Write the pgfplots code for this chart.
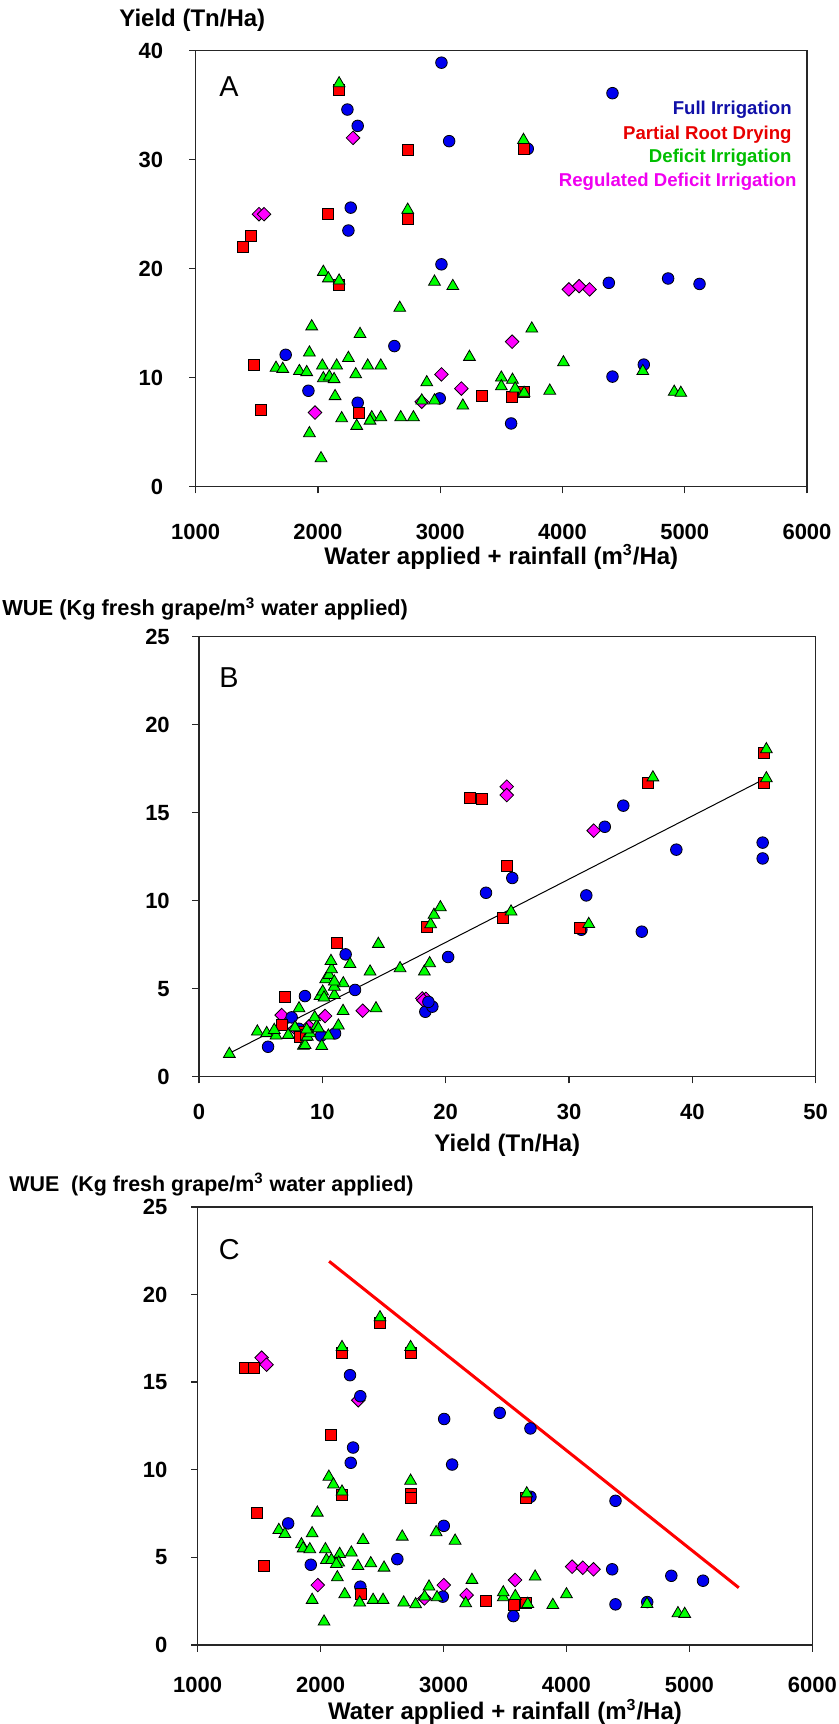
\documentclass[border=0pt]{standalone}
\usepackage{fontspec}
\setmainfont{Liberation Sans}
\usepackage{pgfplots}
\pgfplotsset{compat=1.18}
\definecolor{fiblue}{HTML}{0000F0}
\definecolor{prdred}{HTML}{FF0000}
\definecolor{digreen}{HTML}{00FF00}
\definecolor{rdimag}{HTML}{FF00FF}
\definecolor{txblue}{HTML}{1010A8}
\definecolor{txred}{HTML}{E80000}
\definecolor{txgreen}{HTML}{00BE00}
\definecolor{txmag}{HTML}{F000F0}

\pgfplotsset{
  panel/.style={scale only axis, clip=false,
    axis line style={black!85,line width=0.7pt},
    tick style={black!85,line width=0.7pt},
    tick align=outside, major tick length=3.3pt,
    xtick pos=left, ytick pos=left,
    ticklabel style={font=\bfseries\fontsize{11}{13}\selectfont},
    /pgf/number format/assume math mode=true,
    /pgf/number format/1000 sep={},
    label style={font=\bfseries\fontsize{12}{14}\selectfont},
    xlabel style={at={(axis description cs:0.5,0)},anchor=center}},
  fi/.style={only marks, mark=*, mark size=2.9pt,
    mark options={fill=fiblue,draw=black,line width=0.4pt}},
  prd/.style={only marks, mark=square*, mark size=2.75pt,
    mark options={fill=prdred,draw=black,line width=0.4pt}},
  di/.style={only marks, mark=triangle*, mark size=3.4pt,
    mark options={fill=digreen,draw=black,line width=0.4pt}},
  rdi/.style={only marks, mark=square*, mark size=2.4pt,
    mark options={fill=rdimag,draw=black,line width=0.4pt,rotate=45}},
}

% panel A: water (m3/Ha) vs yield (Tn/Ha)
\pgfplotstableread{
w y
3010 38.9
2241 34.6
2325 33.1
3073 31.7
2268 25.6
2249 23.5
3010 20.4
2625 12.9
1736 12.1
1922 8.8
2325 7.7
2996 8.1
3580 5.8
4409 36.1
3716 31.0
4379 18.7
4864 19.1
5121 18.6
4409 10.1
4665 11.2
}\fiA
\pgfplotstableread{
w y
2173 36.4
2734 30.9
2083 25.0
2734 24.6
1455 23.0
1385 22.0
2173 18.5
1480 11.2
1535 7.0
2336 6.8
3343 8.3
3681 31.0
3585 8.2
3681 8.7
}\prdA
\pgfplotstableread{
w y
2173 37.0
2734 25.4
2044 19.7
2085 19.1
2173 18.9
2953 18.8
3103 18.4
2669 16.4
1949 14.7
2344 14.0
1930 12.3
2249 11.8
3239 11.9
1657 10.9
1712 10.8
1848 10.6
1908 10.5
2036 11.1
2153 11.1
2407 11.1
2514 11.1
2309 10.3
2044 9.94
2093 10.1
2132 9.86
2140 8.3
2890 9.57
2849 7.9
2953 7.9
3185 7.43
2194 6.27
2317 5.57
2440 6.36
2426 6.05
2514 6.36
2677 6.36
2781 6.36
1930 4.9
2025 2.6
3681 31.8
3749 14.5
4008 11.4
3500 10.0
3591 9.8
3500 9.2
3613 9.0
3686 8.6
3896 8.8
4657 10.6
4914 8.7
4968 8.6
}\diA
\pgfplotstableread{
w y
2287 32.0
1518 25.0
1559 25.0
1976 6.8
3010 10.3
3173 9.0
2849 7.8
3588 13.3
4052 18.1
4136 18.4
4221 18.1
}\rdiA

% panel B: yield (Tn/Ha) vs WUE
\pgfplotstableread{
y e
5.6 1.7
7.51 3.37
8.59 4.58
9.9 2.33
11.03 2.46
11.89 6.95
12.65 4.93
8.1 2.72
18.35 3.69
18.92 3.98
18.6 4.25
20.2 6.8
23.27 10.45
25.4 11.29
32.9 14.2
34.4 15.4
31.4 10.3
38.7 12.9
35.9 8.24
31.0 8.35
45.7 13.3
45.7 12.4
}\fiB
\pgfplotstableread{
y e
6.97 4.56
6.76 2.94
8.19 2.56
8.19 2.27
8.7 2.36
11.16 7.58
18.46 8.52
22.0 15.83
22.97 15.8
24.6 9.0
24.95 11.99
36.4 16.7
30.9 8.43
45.8 18.4
45.8 16.7
}\prdB
\pgfplotstableread{
y e
2.46 1.29
4.73 2.56
5.49 2.47
6.24 2.33
6.1 2.65
7.24 2.37
7.78 2.8
8.11 3.88
8.46 1.75
8.6 1.8
8.78 2.27
9.0 2.46
8.73 2.68
9.54 2.88
9.38 3.37
9.68 2.74
9.95 1.74
10.49 2.33
11.3 2.9
11.68 3.73
9.81 4.58
10.03 4.83
10.14 4.49
10.97 4.64
10.97 5.11
11.7 5.3
10.27 5.53
10.54 5.78
10.97 5.4
10.75 6.1
10.7 6.57
12.24 6.4
13.87 5.97
14.35 3.88
14.54 7.54
16.3 6.16
18.27 5.97
18.7 6.44
18.78 8.66
19.05 9.19
19.57 9.62
25.3 9.38
31.6 8.67
36.8 17.0
46.0 16.95
46.0 18.6
}\diB
\pgfplotstableread{
y e
6.7 3.5
10.22 3.45
13.27 3.75
18.1 4.45
18.4 4.42
18.2 4.33
24.95 16.48
24.95 16.0
32.0 13.98
7.8 2.74
8.9 2.85
}\rdiB

% panel C: water (m3/Ha) vs WUE
\pgfplotstableread{
w e
2239 15.4
2323 14.2
2264 11.27
2245 10.4
3005 12.9
3070 10.3
3457 13.25
1736 6.94
3002 6.8
2624 4.9
1920 4.58
2323 3.33
2994 2.76
3707 12.36
3707 8.46
4399 8.23
4372 4.32
4853 3.95
5111 3.67
4399 2.32
4657 2.45
3568 1.65
}\fiC
\pgfplotstableread{
w e
1384 15.8
1457 15.8
2483 18.4
2174 16.7
2732 16.7
2082 12.0
2174 8.55
2732 8.65
2732 8.37
1479 7.55
1538 4.52
2331 2.89
3341 2.49
3576 2.30
3671 2.38
3666 8.37
}\prdC
\pgfplotstableread{
w e
2483 18.7
2174 17.0
2732 17.0
2067 9.6
2104 9.16
2174 8.75
2732 9.37
1973 7.55
1660 6.56
1709 6.33
1931 6.37
1844 5.74
1858 5.51
1912 5.46
2039 5.46
2155 5.19
2250 5.27
2345 5.99
2664 6.18
2940 6.43
3094 5.95
2047 4.85
2088 4.85
2147 4.7
2128 4.62
2304 4.5
2408 4.66
2516 4.41
2136 3.86
2196 2.89
1931 2.57
2318 2.42
2427 2.57
2508 2.57
2676 2.42
2773 2.32
2846 2.76
2882 3.33
2947 2.72
3180 2.38
3231 3.71
2028 1.33
3486 2.72
3486 3.0
3677 8.65
3584 2.79
3685 2.34
3745 3.9
3889 2.28
4000 2.89
4655 2.34
4907 1.81
4962 1.77
}\diC
\pgfplotstableread{
w e
1520 16.4
1560 16.0
2306 13.97
1977 3.42
3002 3.42
2845 2.66
3188 2.85
3582 3.71
4046 4.47
4133 4.41
4220 4.32
}\rdiC

\begin{document}
\begin{tikzpicture}
\path[use as bounding box] (0,0) rectangle (419.5pt,862pt);

% ---- A ----
\begin{axis}[panel, at={(97.85pt,618.65pt)}, anchor=south west,
  width=305.65pt, height=218pt,
  xmin=1000, xmax=6000, ymin=0, ymax=40,
  xtick={1000,2000,...,6000}, ytick={0,10,...,40},
  xticklabel style={anchor=center,yshift=-19.5pt},
  yticklabel style={anchor=east,xshift=-9.5pt},
  xlabel={Water applied + rainfall (m\textsuperscript{3}/Ha)},
  xlabel style={yshift=-35pt}]
\addplot[rdi] table[x=w,y=y] {\rdiA};
\addplot[fi] table[x=w,y=y] {\fiA};
\addplot[prd] table[x=w,y=y] {\prdA};
\addplot[di] table[x=w,y=y] {\diA};
\end{axis}

% ---- B ----
\begin{axis}[panel, at={(99.5pt,323.65pt)}, anchor=south west,
  width=308.35pt, height=220pt,
  xmin=0, xmax=50, ymin=0, ymax=25,
  xtick={0,10,...,50}, ytick={0,5,...,25},
  xticklabel style={anchor=center,yshift=-14.5pt},
  yticklabel style={anchor=east,xshift=-7.8pt},
  xlabel={Yield (Tn/Ha)},
  xlabel style={yshift=-34.5pt}]
\addplot[black,line width=0.5pt] coordinates {(2.46,1.33) (45.8,16.9)};
\addplot[rdi] table[x=y,y=e] {\rdiB};
\addplot[fi] table[x=y,y=e] {\fiB};
\addplot[prd] table[x=y,y=e] {\prdB};
\addplot[di] table[x=y,y=e] {\diB};
\end{axis}

% ---- C ----
\begin{axis}[panel, at={(98.85pt,39.5pt)}, anchor=south west,
  width=307.3pt, height=219pt,
  xmin=1000, xmax=6000, ymin=0, ymax=25,
  xtick={1000,2000,...,6000}, ytick={0,5,...,25},
  xticklabel style={anchor=center,yshift=-16.5pt},
  yticklabel style={anchor=east,xshift=-8.3pt},
  xlabel={Water applied + rainfall (m\textsuperscript{3}/Ha)},
  xlabel style={yshift=-33.5pt}]
\addplot[prdred,line width=1.5pt] coordinates {(2069,21.9) (5402,3.27)};
\addplot[rdi] table[x=w,y=e] {\rdiC};
\addplot[fi] table[x=w,y=e] {\fiC};
\addplot[prd] table[x=w,y=e] {\prdC};
\addplot[di] table[x=w,y=e] {\diC};
\end{axis}

% axis titles above the plots
\node[anchor=west,font=\bfseries\fontsize{12}{14}\selectfont,inner sep=0pt] at (59.5pt,852pt) {Yield (Tn/Ha)};
\node[anchor=west,font=\bfseries\fontsize{10.9}{13}\selectfont,inner sep=0pt] at (1pt,557.5pt) {WUE (Kg fresh grape/m\textsuperscript{3} water applied)};
\node[anchor=west,font=\bfseries\fontsize{10.7}{13}\selectfont,inner sep=0pt] at (4.5pt,269.5pt) {WUE\ \ (Kg fresh grape/m\textsuperscript{3} water applied)};

% panel letters
\node[font=\fontsize{14.4}{16}\selectfont] at (114.5pt,818.65pt) {A};
\node[font=\fontsize{14.4}{16}\selectfont] at (114.5pt,523pt) {B};
\node[font=\fontsize{14.4}{16}\selectfont] at (114.65pt,237pt) {C};

% text legend of panel A
\begin{scope}[every node/.style={anchor=east,inner sep=0pt,font=\bfseries\fontsize{9.3}{11}\selectfont}]
\node[text=txblue] at (396pt,807pt) {Full Irrigation};
\node[text=txred] at (396pt,794.5pt) {Partial Root Drying};
\node[text=txgreen] at (396pt,783pt) {Deficit Irrigation};
\node[text=txmag] at (398.5pt,771.2pt) {Regulated Deficit Irrigation};
\end{scope}
\end{tikzpicture}
\end{document}
